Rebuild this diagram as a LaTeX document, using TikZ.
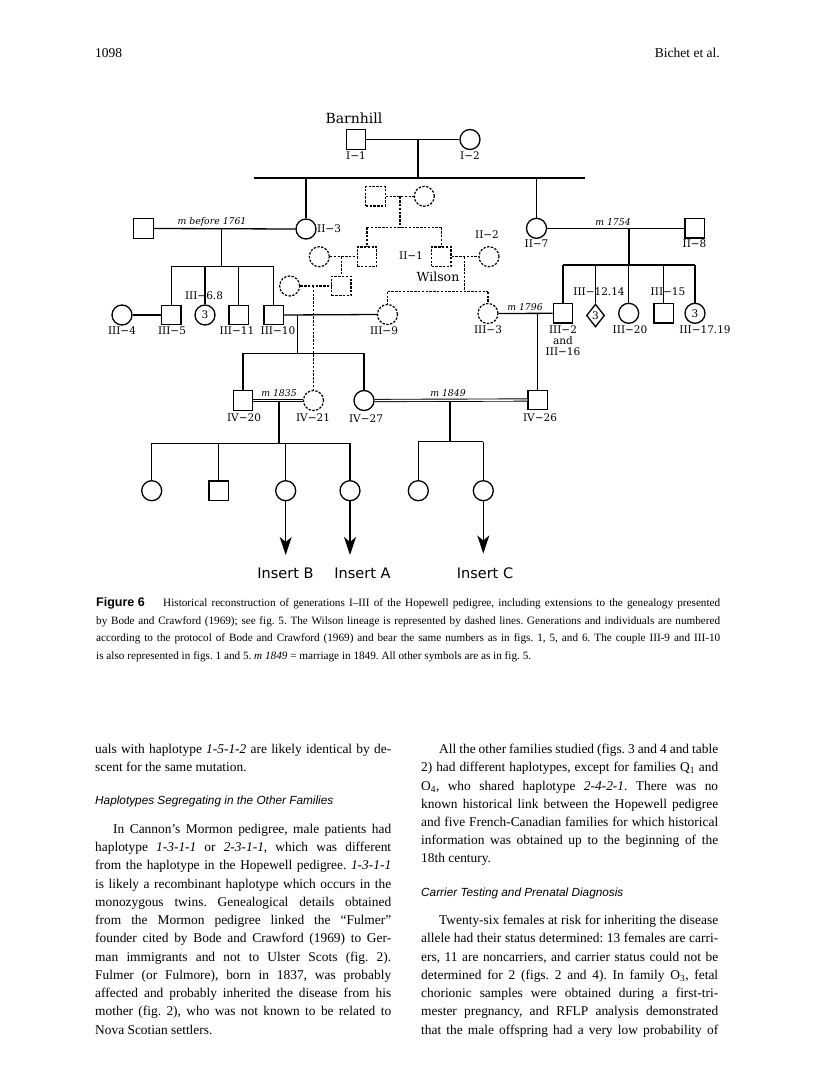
\documentclass[tikz,border=0pt]{standalone}
\usepackage{fontspec}
\setmainfont{Liberation Serif}
\newfontfamily\pedfont{DejaVu Serif}
\newfontfamily\insfont{DejaVu Sans}
\newfontfamily\hsans{Liberation Sans}
\usetikzlibrary{arrows.meta,shapes.geometric}
\newcommand{\lab}{\pedfont\fontsize{10.5}{12}\selectfont}
\newcommand{\mlabf}{\pedfont\itshape\fontsize{9.3}{11}\selectfont}
\newcommand{\bodyf}{\fontsize{13.4}{15}\selectfont}
\newcommand{\capf}{\fontsize{11.2}{13}\selectfont}
\newcommand{\headf}{\hsans\itshape\fontsize{11.8}{13}\selectfont}
\frenchspacing
\begin{document}
\begin{tikzpicture}[x=1pt,y=-1pt,
  ped/.style={line width=1.3pt},
  wil/.style={line width=1.2pt, dash pattern=on 2.4pt off 1.4pt},
  male/.style={draw, rectangle, minimum size=19.5pt, inner sep=0pt, line width=1.3pt},
  female/.style={draw, circle, minimum size=20pt, inner sep=0pt, line width=1.3pt},
  wmale/.style={male, wil},
  wfemale/.style={female, wil},
  lab/.style={font=\lab, inner sep=0pt},
  mlab/.style={font=\mlabf, inner sep=0pt},
  dbl/.style={double, double distance=1.4pt, line width=0.9pt},
  arr/.style={line width=1.3pt, -{Stealth[length=18pt,width=12pt,inset=5pt]}},
  ins/.style={font=\insfont\fontsize{14.5}{16}\selectfont, inner sep=0pt},
  bl/.style={anchor=base west, inner sep=0pt, font=\bodyf},
  cl/.style={anchor=base west, inner sep=0pt, font=\capf},
  hd/.style={anchor=base west, inner sep=0pt, font=\headf}]
\useasboundingbox (0,0) rectangle (816,1081);
\fill[white] (0,0) rectangle (816,1081);

% header
\node[anchor=base west, inner sep=0pt, font=\fontsize{13.5}{15}\selectfont] (pg) at (95,57) {1098};
\node[anchor=base east, inner sep=0pt, font=\fontsize{13.5}{15}\selectfont] (au) at (720,57) {Bichet et al.};

% ---------- generation I ----------
\node[lab, font=\pedfont\fontsize{14}{16}\selectfont] (barn) at (354,118) {Barnhill};
\node[male] (I1) at (356,139.5) {};
\node[female] (I2) at (470,139.5) {};
\node[lab] (lI1) at (356,156) {I−1};
\node[lab] (lI2) at (470,156) {I−2};
\coordinate (cI) at (418,139.5);
\coordinate (sI) at (418,178);
\coordinate (sIL) at (254,178);
\coordinate (sIR) at (585,178);
\draw[ped] (I1.east) -- (I2.west);
\draw[ped] (cI) -- (sI);
\draw[ped] (sIL) -- (sIR);

% ---------- generation II ----------
\node[female] (II3) at (306,229) {};
\node[male] (sp3) at (143.5,228.5) {};
\node[lab, anchor=west] (lII3) at (317,229) {II−3};
\node[female] (II7) at (536.5,228.3) {};
\node[male] (II8) at (694.7,228.3) {};
\node[lab] (lII7) at (536.5,244) {II−7};
\node[lab] (lII8) at (694.5,244) {II−8};
\draw[ped] (II3.north |- sI) -- (II3.north);
\draw[ped] (II7.north |- sI) -- (II7.north);
\draw[ped] (sp3.east) -- (II3.west);
\node[mlab] (m1761) at (212,222) {m before 1761};
\draw[ped] (II7.east) -- (II8.west);
\node[mlab] (m1754) at (613,222) {m 1754};

% ---------- generation III (left family) ----------
\coordinate (cII3) at (221.7,228.5);
\coordinate (sII3) at (221.7,266.7);
\node[male] (III5) at (171.3,315) {};
\node[female, font=\lab] (III68) at (205,315) {3};
\node[male] (III11) at (238.7,315) {};
\node[male] (III10) at (273.7,315) {};
\node[female] (III4) at (122,315) {};
\draw[ped] (cII3) -- (sII3);
\draw[ped] (III5.north |- sII3) -- (III10.north |- sII3);
\foreach \n in {III5,III68,III11,III10} \draw[ped] (\n.north |- sII3) -- (\n.north);
\draw[ped] (III4.east) -- (III5.west);
\node[lab] (lIII4) at (122,331) {III−4};
\node[lab] (lIII5) at (172,331) {III−5};
\node[lab] (lIII68) at (204,296) {III−6.8};
\node[lab] (lIII11) at (237,331) {III−11};
\node[lab] (lIII10) at (278,331) {III−10};

% ---------- Wilson lineage (dashed) ----------
\node[wmale] (W1) at (375.5,196.3) {};
\node[wfemale] (W2) at (424.3,196.3) {};
\coordinate (cW1) at (400,196.3);
\coordinate (sW1) at (400,227.3);
\draw[wil] (W1.east) -- (W2.west);
\draw[wil] (cW1) -- (sW1);
\node[wmale] (W3) at (367,256.7) {};
\node[wmale] (II1) at (441.3,256.7) {};
\draw[wil] (W3.north |- sW1) -- (II1.north |- sW1);
\draw[wil] (W3.north |- sW1) -- (W3.north);
\draw[wil] (II1.north |- sW1) -- (II1.north);
\node[wfemale] (W4) at (319.3,256.7) {};
\draw[wil] (W4.east) -- (W3.west);
\node[wmale] (W5) at (341.3,286) {};
\coordinate (cW4) at (341.3,256.7);
\draw[wil] (cW4) -- (W5.north);
\node[wfemale] (W6) at (289.7,286) {};
\draw[wil] (W6.east) -- (W5.west);
\coordinate (cW6) at (313.5,286);
\node[wfemale] (IV21) at (313.5,400.5) {};
\draw[wil] (cW6) -- (IV21.north);
\node[wfemale] (II2) at (489,256.7) {};
\draw[wil] (II1.east) -- (II2.west);
\node[lab] (lII1) at (411,256) {II−1};
\node[lab] (lII2) at (487,235) {II−2};
\node[lab, font=\pedfont\fontsize{12.5}{14}\selectfont] (wils) at (438,277) {Wilson};
\coordinate (cII1) at (464.3,256.7);
\coordinate (sII1) at (464.3,291.7);
\node[wfemale] (III9) at (387.5,314.5) {};
\node[wfemale] (III3) at (488,313.5) {};
\draw[wil] (cII1) -- (sII1);
\draw[wil] (III9.north |- sII1) -- (III3.north |- sII1);
\draw[wil] (III9.north |- sII1) -- (III9.north);
\draw[wil] (III3.north |- sII1) -- (III3.north);
\node[lab] (lIII9) at (384,331) {III−9};
\node[lab] (lIII3) at (488,330) {III−3};

% III-10 x III-9
\draw[ped] (III10.east) -- (III9.west);

% ---------- generation III (right family) ----------
\coordinate (cII7) at (629,228.3);
\coordinate (sII7) at (629,265);
\node[male] (III2) at (563,313.3) {};
\node[draw, diamond, minimum width=18pt, minimum height=23pt, inner sep=0pt, line width=1.3pt, font=\lab] (D) at (595.5,315.5) {3};
\node[female] (III20) at (628.7,313.3) {};
\node[male] (III15) at (663.8,313.3) {};
\node[female, font=\lab] (III1719) at (695,313.3) {3};
\draw[ped] (cII7) -- (sII7);
\draw[ped] (III2.north |- sII7) -- (III1719.north |- sII7);
\foreach \n in {III2,D,III20,III15,III1719} \draw[ped] (\n.north |- sII7) -- (\n.north);
\node[lab] (lIII1214) at (599,292) {III−12.14};
\node[lab] (lIII15) at (668,292) {III−15};
\node[lab] (lIII2) at (563,330) {III−2};
\node[lab] (land) at (563,341) {and};
\node[lab] (lIII16) at (563,352) {III−16};
\node[lab] (lIII20) at (630,330) {III−20};
\node[lab] (lIII1719) at (705,330) {III−17.19};
\draw[ped] (III3.east) -- (III2.west);
\node[mlab] (m1796) at (525,307.5) {m 1796};

% ---------- generation IV ----------
\node[male] (IV20) at (243,400.5) {};
\node[female] (IV27) at (364,400.5) {};
\node[male] (IV26) at (537.7,400) {};
\coordinate (cIII10) at (297.7,315);
\coordinate (sIII10) at (297.7,353.3);
\draw[ped] (cIII10) -- (sIII10);
\draw[ped] (IV20.north |- sIII10) -- (IV27.north |- sIII10);
\draw[ped] (IV20.north |- sIII10) -- (IV20.north);
\draw[ped] (IV27.north |- sIII10) -- (IV27.north);
\draw[ped] (IV26.north |- III3.east) -- (IV26.north);
\node[lab] (lIV20) at (244,417.5) {IV−20};
\node[lab] (lIV21) at (313,417.5) {IV−21};
\node[lab] (lIV27) at (366,419) {IV−27};
\node[lab] (lIV26) at (540,417.5) {IV−26};
\draw[dbl] (IV20.east) -- (IV21.west);
\draw[dbl] (IV27.east) -- (IV26.west);
\node[mlab] (m1835) at (279,393) {m 1835};
\node[mlab] (m1849) at (448,393) {m 1849};

% ---------- generation V ----------
\coordinate (cIV20) at (279,400.5);
\coordinate (sIV20) at (279,443.3);
\coordinate (cIV27) at (450,400.5);
\coordinate (sIV27) at (450,441.7);
\node[female] (V1) at (151.7,490.7) {};
\node[male] (V2) at (218.7,490.7) {};
\node[female] (V3) at (285.7,490.7) {};
\node[female] (V4) at (350,490.7) {};
\node[female] (V5) at (418.3,490.7) {};
\node[female] (V6) at (483.3,490.7) {};
\draw[ped] (cIV20) -- (sIV20);
\draw[ped] (V1.north |- sIV20) -- (V4.north |- sIV20);
\foreach \n in {V1,V2,V3,V4} \draw[ped] (\n.north |- sIV20) -- (\n.north);
\draw[ped] (cIV27) -- (sIV27);
\draw[ped] (V5.north |- sIV27) -- (V6.north |- sIV27);
\foreach \n in {V5,V6} \draw[ped] (\n.north |- sIV27) -- (\n.north);
\coordinate (tB) at (285.7,555);
\coordinate (tA) at (350,555);
\coordinate (tC) at (483.3,553.5);
\draw[arr] (V3.south) -- (tB);
\draw[arr] (V4.south) -- (tA);
\draw[arr] (V6.south) -- (tC);
\node[ins] (iB) at (285.5,573) {Insert B};
\node[ins] (iA) at (362.5,573) {Insert A};
\node[ins] (iC) at (485,573) {Insert C};

% ---------- caption ----------
\node[anchor=base west, inner sep=0pt, font=\hsans\bfseries\fontsize{12.5}{14}\selectfont] (fig) at (96,606) {Figure 6};
\node[cl] (c1) at (163,606) {\makebox[557pt][s]{Historical reconstruction of generations I–III of the Hopewell pedigree, including extensions to the genealogy presented}};
\node[cl] (c2) at (96,624) {\makebox[624pt][s]{by Bode and Crawford (1969); see fig. 5. The Wilson lineage is represented by dashed lines. Generations and individuals are numbered}};
\node[cl] (c3) at (96,641.5) {\makebox[624pt][s]{according to the protocol of Bode and Crawford (1969) and bear the same numbers as in figs. 1, 5, and 6. The couple III-9 and III-10}};
\node[cl] (c4) at (96,659) {is also represented in figs. 1 and 5. \textit{m 1849} = marriage in 1849. All other symbols are as in fig. 5.};

% ---------- left column ----------
\node[bl] (l1) at (95,753) {\makebox[296pt][s]{uals with haplotype \textit{1-5-1-2} are likely identical by de-}};
\node[bl] (l2) at (95,771) {scent for the same mutation.};
\node[hd] (h1) at (95,804) {Haplotypes Segregating in the Other Families};
\node[bl] (l3) at (113,833) {\makebox[278pt][s]{In Cannon’s Mormon pedigree, male patients had}};
\node[bl] (l4) at (95,851) {\makebox[296pt][s]{haplotype \textit{1-3-1-1} or \textit{2-3-1-1}, which was different}};
\node[bl] (l5) at (95,869.5) {\makebox[296pt][s]{from the haplotype in the Hopewell pedigree. \textit{1-3-1-1}}};
\node[bl] (l6) at (95,888) {\makebox[296pt][s]{is likely a recombinant haplotype which occurs in the}};
\node[bl] (l7) at (95,906) {\makebox[296pt][s]{monozygous twins. Genealogical details obtained}};
\node[bl] (l8) at (95,924) {\makebox[296pt][s]{from the Mormon pedigree linked the “Fulmer”}};
\node[bl] (l9) at (95,942.5) {\makebox[296pt][s]{founder cited by Bode and Crawford (1969) to Ger-}};
\node[bl] (l10) at (95,961) {\makebox[296pt][s]{man immigrants and not to Ulster Scots (fig. 2).}};
\node[bl] (l11) at (95,979) {\makebox[296pt][s]{Fulmer (or Fulmore), born in 1837, was probably}};
\node[bl] (l12) at (95,997) {\makebox[296pt][s]{affected and probably inherited the disease from his}};
\node[bl] (l13) at (95,1015.5) {\makebox[296pt][s]{mother (fig. 2), who was not known to be related to}};
\node[bl] (l14) at (95,1034) {Nova Scotian settlers.};

% ---------- right column ----------
\node[bl] (r1) at (439,753) {\makebox[279pt][s]{All the other families studied (figs. 3 and 4 and table}};
\node[bl] (r2) at (421,771) {\makebox[297pt][s]{2) had different haplotypes, except for families Q\textsubscript{1} and}};
\node[bl] (r3) at (421,790) {\makebox[297pt][s]{O\textsubscript{4}, who shared haplotype \textit{2-4-2-1}. There was no}};
\node[bl] (r4) at (421,808) {\makebox[297pt][s]{known historical link between the Hopewell pedigree}};
\node[bl] (r5) at (421,826) {\makebox[297pt][s]{and five French-Canadian families for which historical}};
\node[bl] (r6) at (421,844.5) {\makebox[297pt][s]{information was obtained up to the beginning of the}};
\node[bl] (r7) at (421,862.5) {18th century.};
\node[hd] (h2) at (421,896) {Carrier Testing and Prenatal Diagnosis};
\node[bl] (r8) at (439,924) {\makebox[279pt][s]{Twenty-six females at risk for inheriting the disease}};
\node[bl] (r9) at (421,942.5) {\makebox[297pt][s]{allele had their status determined: 13 females are carri-}};
\node[bl] (r10) at (421,961) {\makebox[297pt][s]{ers, 11 are noncarriers, and carrier status could not be}};
\node[bl] (r11) at (421,979) {\makebox[297pt][s]{determined for 2 (figs. 2 and 4). In family O\textsubscript{3}, fetal}};
\node[bl] (r12) at (421,997) {\makebox[297pt][s]{chorionic samples were obtained during a first-tri-}};
\node[bl] (r13) at (421,1015.5) {\makebox[297pt][s]{mester pregnancy, and RFLP analysis demonstrated}};
\node[bl] (r14) at (421,1034) {\makebox[297pt][s]{that the male offspring had a very low probability of}};
\end{tikzpicture}
\end{document}
